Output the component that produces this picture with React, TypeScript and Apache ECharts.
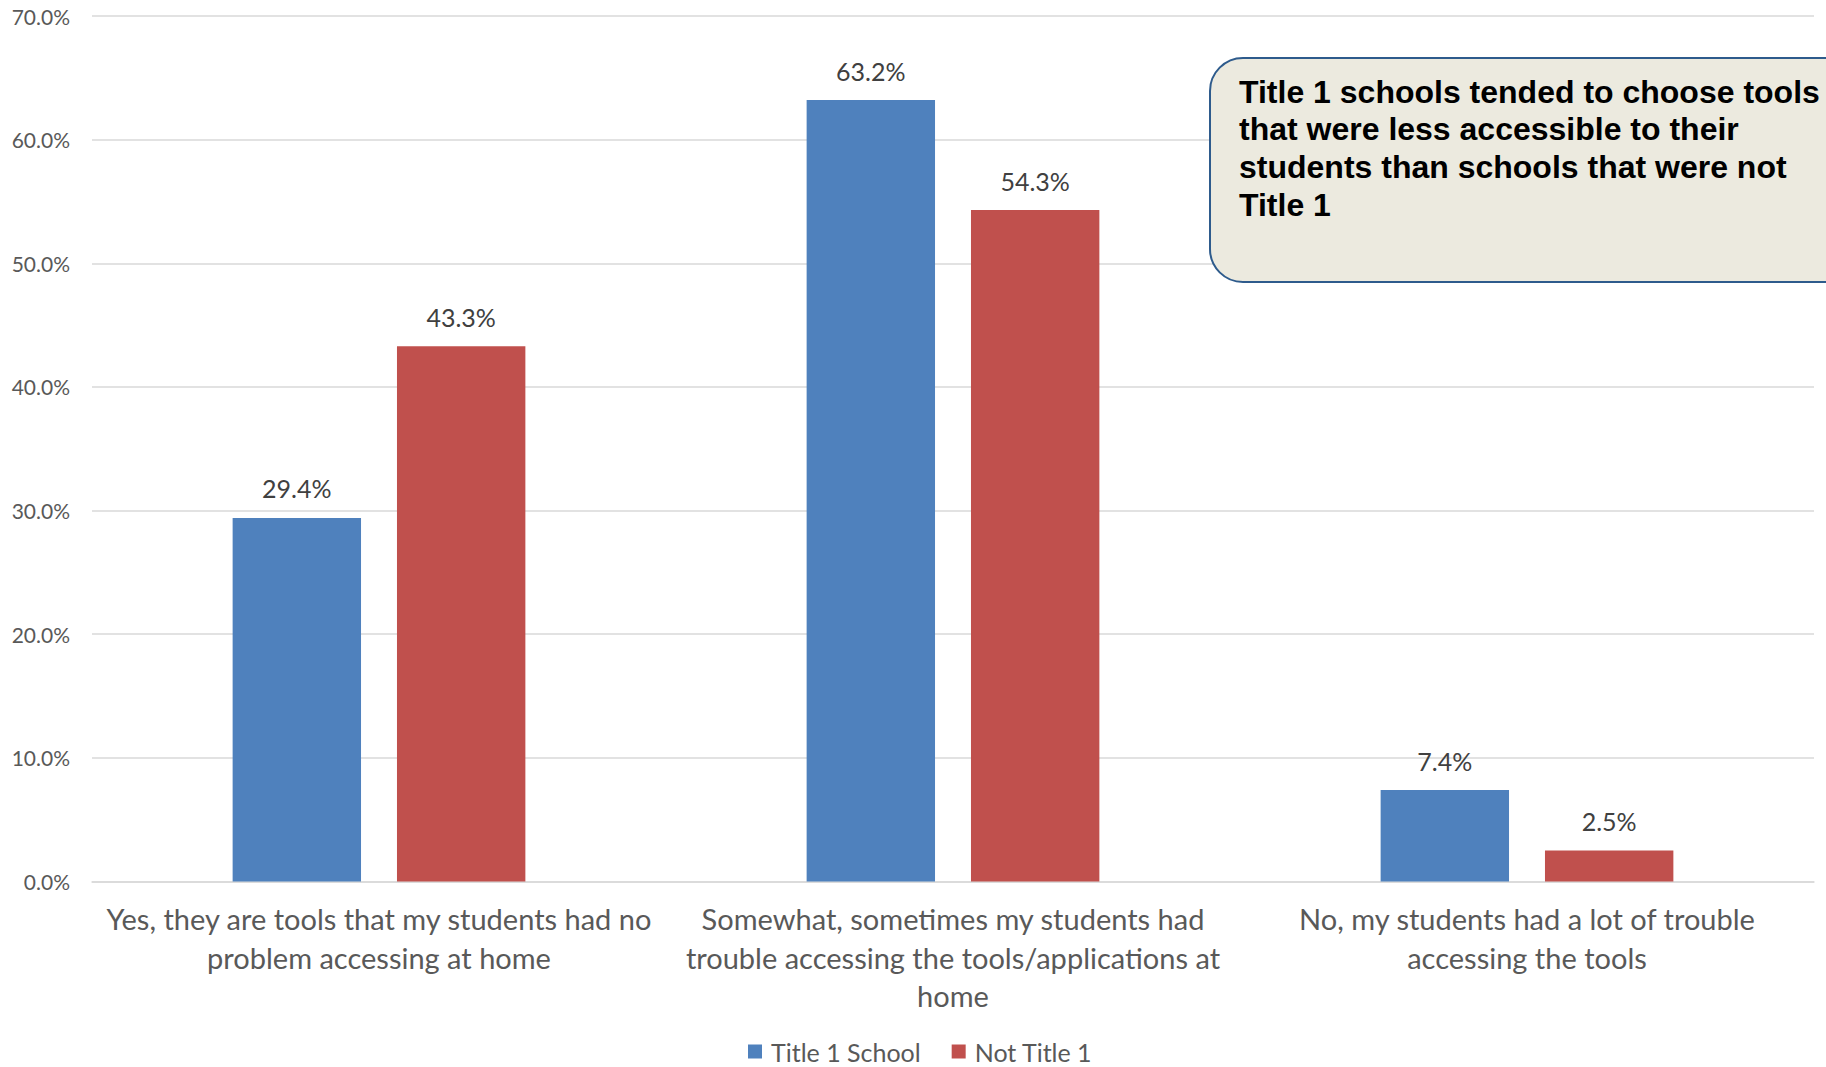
import React, { useEffect, useRef } from "react";
import * as echarts from "echarts";

const categories = [
  "Yes, they are tools that my students had no\nproblem accessing at home",
  "Somewhat, sometimes my students had\ntrouble accessing the tools/applications at\nhome",
  "No, my students had a lot of trouble\naccessing the tools",
];
const title1Values = [29.4, 63.2, 7.4];
const notTitle1Values = [43.3, 54.3, 2.5];
const seriesNames = ["Title 1 School", "Not Title 1"];
const yTicks = { min: 0, max: 70, interval: 10 };
const annotation =
  "Title 1 schools tended to choose tools\nthat were less accessible to their\nstudents than schools that were not\nTitle 1";

const FONT = "Lato, 'Noto Sans', sans-serif";

export default function App() {
  const ref = useRef<HTMLDivElement>(null);
  useEffect(() => {
    if (!ref.current) return;
    const chart = echarts.init(ref.current, undefined, { renderer: "svg" });
    const labelCfg = {
      show: true,
      position: "top",
      distance: 17,
      fontFamily: FONT,
      fontSize: 25,
      color: "#404040",
      formatter: (p: any) => `${Number(p.value).toFixed(1)}%`,
    };
    chart.setOption({
      animation: false,
      backgroundColor: "#ffffff",
      grid: { left: 92, right: 12, top: 16, bottom: 185.5, containLabel: false },
      legend: {
        data: seriesNames,
        left: 748,
        top: 1039,
        icon: "rect",
        itemWidth: 14,
        itemHeight: 14,
        itemGap: 31,
        padding: 0,
        textStyle: {
          fontFamily: FONT,
          fontSize: 25,
          lineHeight: 24,
          color: "#595959",
          padding: [0, 0, 0, 4],
        },
      },
      xAxis: {
        type: "category",
        data: categories,
        axisTick: { show: false },
        axisLine: { lineStyle: { color: "#D9D9D9", width: 1.5 } },
        axisLabel: {
          interval: 0,
          margin: 18,
          fontFamily: FONT,
          fontSize: 29,
          lineHeight: 38.4,
          color: "#595959",
          align: "center",
        },
      },
      yAxis: {
        type: "value",
        min: yTicks.min,
        max: yTicks.max,
        interval: yTicks.interval,
        axisLine: { show: false },
        axisTick: { show: false },
        splitLine: { lineStyle: { color: "#D9D9D9", width: 1.5 } },
        axisLabel: {
          margin: 22,
          fontFamily: FONT,
          fontSize: 21,
          color: "#595959",
          formatter: (v: number) => `${v.toFixed(1)}%`,
        },
      },
      series: [
        {
          name: seriesNames[0],
          type: "bar",
          data: title1Values,
          barGap: "28%",
          barCategoryGap: "49%",
          itemStyle: { color: "#4F81BD" },
          label: labelCfg,
        },
        {
          name: seriesNames[1],
          type: "bar",
          data: notTitle1Values,
          itemStyle: { color: "#C0504D" },
          label: labelCfg,
        },
      ],
      graphic: [
        {
          type: "rect",
          shape: { x: 1210, y: 58, width: 700, height: 224, r: 33 },
          style: { fill: "#ECEADF", stroke: "#2E5B8C", lineWidth: 2 },
          z: 10,
        },
        {
          type: "text",
          x: 1239,
          y: 73,
          z: 11,
          style: {
            x: 0,
            y: 0,
            text: annotation,
            fontFamily: "'Liberation Sans', Arial, sans-serif",
            fontWeight: "bold",
            fontSize: 32,
            lineHeight: 37.6,
            fill: "#000000",
            verticalAlign: "top",
            align: "left",
          },
        },
      ],
    });
    return () => chart.dispose();
  }, []);
  return (
    <div
      ref={ref}
      style={{ position: "fixed", left: 0, top: 0, width: 1826, height: 1067 }}
    />
  );
}
